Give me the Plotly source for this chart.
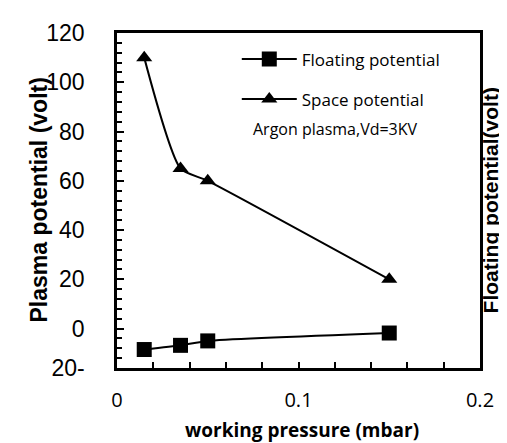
import plotly.graph_objects as go

# data
pressure = [0.015, 0.035, 0.05, 0.15]
floating = [-8.5, -6.8, -5, -1.8]
space = [110, 65, 60, 20]

y_ticks = [120, 100, 80, 60, 40, 20, 0, -16]
y_labels = ["120", "100", "80", "60", "40", "20", "0", "20-"]
x_ticks = [0, 0.1, 0.2]
x_labels = ["0", "0.1", "0.2"]

ARIAL = "Liberation Sans, Arial, sans-serif"
CALIBRI = "Open Sans, Lato, sans-serif"

fig = go.Figure()

fig.add_trace(go.Scatter(
    x=pressure, y=floating, name="Floating potential", legendgroup="f",
    mode="lines+markers",
    line={"color": "black", "width": 2, "shape": "spline", "smoothing": 0.5},
    marker={"symbol": "square", "size": 15, "color": "black"},
))
fig.add_trace(go.Scatter(
    x=pressure, y=space, name="Space potential", legendgroup="s",
    mode="lines+markers",
    line={"color": "black", "width": 2, "shape": "spline", "smoothing": 0.6},
    marker={"symbol": "triangle-up", "size": 14, "color": "black"},
))

fig.update_layout(
    width=507, height=443,
    margin={"l": 109, "r": 35, "t": 19, "b": 83},
    paper_bgcolor="white", plot_bgcolor="white",
    showlegend=True,
    legend={
        "x": 0.33, "y": 0.975, "xanchor": "left", "yanchor": "top",
        "font": {"family": CALIBRI, "size": 17, "color": "black"},
        "bgcolor": "rgba(0,0,0,0)", "itemwidth": 55, "tracegroupgap": 15,
    },
    annotations=[
        {"text": "Argon plasma,Vd=3KV", "x": 0.369, "y": 0.712, "xref": "paper", "yref": "paper",
         "xanchor": "left", "yanchor": "middle", "showarrow": False,
         "font": {"family": CALIBRI, "size": 16, "color": "black"}},
        {"text": "<b>working pressure (mbar)</b>", "x": 0.51, "y": -0.186, "xref": "paper", "yref": "paper",
         "xanchor": "center", "yanchor": "middle", "showarrow": False,
         "font": {"family": CALIBRI, "size": 19, "color": "black"}},
        {"text": "<b>Plasma potential (volt)</b>", "x": -0.2176, "y": 0.5, "xref": "paper", "yref": "paper",
         "textangle": -90, "showarrow": False, "xanchor": "center", "yanchor": "middle",
         "font": {"family": ARIAL, "size": 23, "color": "black"}},
        {"text": "<b>Floating potential(volt)</b>", "x": 1.03, "y": 0.5, "xref": "paper", "yref": "paper",
         "textangle": -90, "showarrow": False, "xanchor": "center", "yanchor": "middle",
         "font": {"family": ARIAL, "size": 21, "color": "black"}},
    ],
)

fig.update_xaxes(
    range=[0, 0.2], tickvals=x_ticks, ticktext=x_labels,
    ticks="inside", ticklen=6, tickwidth=1.5, tickcolor="black",
    minor={"dtick": 0.02, "ticks": "inside", "ticklen": 6, "tickwidth": 1.5, "tickcolor": "black"},
    showline=True, linecolor="black", linewidth=2.5, mirror=True,
    showgrid=False, zeroline=False, ticklabelstandoff=12,
    tickfont={"family": CALIBRI, "size": 20, "color": "black"},
)
fig.update_yaxes(
    range=[-16, 120], tickvals=y_ticks, ticktext=y_labels,
    ticks="inside", ticklen=7, tickwidth=1.5, tickcolor="black",
    minor={"dtick": 4, "ticks": "inside", "ticklen": 5, "tickwidth": 1.5, "tickcolor": "black"},
    showline=True, linecolor="black", linewidth=2.5, mirror=True,
    showgrid=False, zeroline=False, ticklabelstandoff=25,
    tickfont={"family": ARIAL, "size": 23, "color": "black"},
)

fig.write_html("out.html")
